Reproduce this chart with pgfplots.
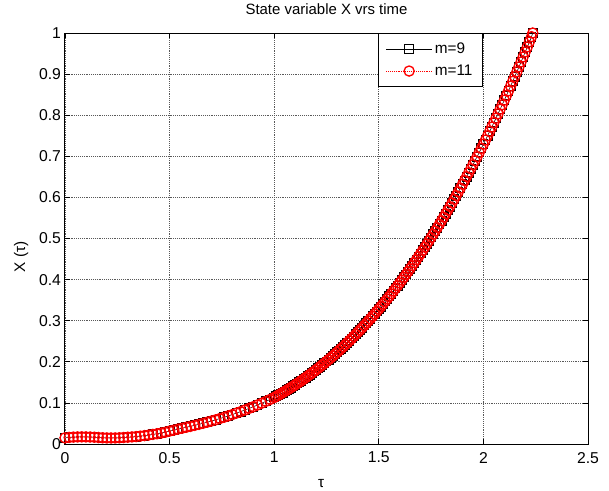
\documentclass[border=0pt]{standalone}
\usepackage{fontspec}
\setmainfont{Liberation Sans}
\usepackage{pgfplots}
\usepackage{pgfplotstable}
\pgfplotsset{compat=1.18}
\pgfplotstableread{
tau X
0.00 0.0150
0.02 0.0160
0.04 0.0168
0.06 0.0172
0.08 0.0174
0.10 0.0173
0.12 0.0170
0.14 0.0165
0.16 0.0158
0.18 0.0152
0.20 0.0148
0.22 0.0147
0.24 0.0148
0.26 0.0152
0.28 0.0158
0.30 0.0165
0.32 0.0172
0.34 0.0181
0.36 0.0192
0.38 0.0204
0.40 0.0218
0.42 0.0233
0.44 0.0250
0.46 0.0268
0.48 0.0288
0.50 0.0315
0.52 0.0337
0.54 0.0362
0.56 0.0385
0.58 0.0408
0.60 0.0430
0.62 0.0454
0.64 0.0478
0.66 0.0504
0.68 0.0531
0.70 0.0559
0.72 0.0588
0.74 0.0619
0.76 0.0650
0.78 0.0683
0.80 0.0717
0.82 0.0753
0.84 0.0789
0.86 0.0827
0.88 0.0867
0.90 0.0907
0.92 0.0949
0.94 0.0992
0.96 0.1037
0.98 0.1083
1.00 0.1130
1.01 0.1158
1.02 0.1187
1.03 0.1217
1.04 0.1247
1.05 0.1277
1.06 0.1308
1.07 0.1340
1.08 0.1372
1.09 0.1405
1.10 0.1438
1.11 0.1472
1.12 0.1506
1.13 0.1541
1.14 0.1577
1.15 0.1613
1.16 0.1650
1.17 0.1687
1.18 0.1725
1.19 0.1763
1.20 0.1803
1.21 0.1842
1.22 0.1883
1.23 0.1924
1.24 0.1965
1.25 0.2008
1.26 0.2051
1.27 0.2094
1.28 0.2138
1.29 0.2183
1.30 0.2229
1.31 0.2275
1.32 0.2322
1.33 0.2369
1.34 0.2417
1.35 0.2466
1.36 0.2516
1.37 0.2566
1.38 0.2617
1.39 0.2668
1.40 0.2721
1.41 0.2774
1.42 0.2827
1.43 0.2882
1.44 0.2937
1.45 0.2993
1.46 0.3049
1.47 0.3106
1.48 0.3164
1.49 0.3223
1.50 0.3283
1.51 0.3343
1.52 0.3404
1.53 0.3466
1.54 0.3528
1.55 0.3591
1.56 0.3655
1.57 0.3720
1.58 0.3786
1.59 0.3852
1.60 0.3919
1.61 0.3987
1.62 0.4056
1.63 0.4125
1.64 0.4196
1.65 0.4267
1.66 0.4339
1.67 0.4411
1.68 0.4485
1.69 0.4559
1.70 0.4634
1.71 0.4710
1.72 0.4787
1.73 0.4865
1.74 0.4944
1.75 0.5023
1.76 0.5103
1.77 0.5184
1.78 0.5266
1.79 0.5349
1.80 0.5433
1.81 0.5517
1.82 0.5603
1.83 0.5689
1.84 0.5776
1.85 0.5864
1.86 0.5953
1.87 0.6043
1.88 0.6134
1.89 0.6225
1.90 0.6318
1.91 0.6411
1.92 0.6506
1.93 0.6601
1.94 0.6697
1.95 0.6795
1.96 0.6893
1.97 0.6992
1.98 0.7092
1.99 0.7193
2.00 0.7295
2.01 0.7397
2.02 0.7501
2.03 0.7606
2.04 0.7712
2.05 0.7819
2.06 0.7926
2.07 0.8035
2.08 0.8145
2.09 0.8255
2.10 0.8367
2.11 0.8480
2.12 0.8593
2.13 0.8708
2.14 0.8824
2.15 0.8940
2.16 0.9058
2.17 0.9177
2.18 0.9296
2.19 0.9417
2.20 0.9539
2.21 0.9662
2.22 0.9786
2.23 0.9910
2.236 1.0000
}\stateX
\begin{document}
\begin{tikzpicture}
\path[use as bounding box] (-48.75pt,-34.5pt) rectangle (408pt,333pt);
\begin{axis}[
  at={(0pt,0pt)}, anchor=south west,
  scale only axis, width=392.25pt, height=308.25pt,
  xmin=0, xmax=2.5, ymin=0, ymax=1,
  xtick={0,0.5,1,1.5,2,2.5},
  ytick={0,0.1,0.2,0.3,0.4,0.5,0.6,0.7,0.8,0.9,1},
  tick align=inside, major tick length=3.75pt,
  axis line style={line width=0.75pt},
  every tick/.style={black, line width=0.6pt},
  grid=major, major grid style={densely dotted, black!65, line width=0.5pt},
  /pgf/number format/assume math mode=true,
  ticklabel style={font=\fontsize{11.8}{13}\selectfont},
  xticklabel style={yshift=-2.5pt},
  yticklabel style={xshift=0.5pt},
  title={State variable X vrs time},
  title style={at={(axis description cs:0.5,1.025)}, anchor=base, font=\fontsize{11.2}{13}\selectfont},
  xlabel={τ},
  xlabel style={at={(axis description cs:0.49,-0.095)}, anchor=center, font=\fontsize{11.5}{13}\selectfont},
  ylabel={X (τ)},
  ylabel style={at={(axis description cs:-0.084,0.455)}, anchor=center, font=\fontsize{11.5}{13}\selectfont},
  clip=false,
  legend image code/.code={\draw[mark repeat=2,mark phase=2,#1] plot coordinates {(0cm,0cm) (0.6cm,0cm) (1.2cm,0cm)};},
  legend cell align=left,
  legend style={at={(rel axis cs:0.799,1)}, anchor=north east, font=\fontsize{11.5}{13}\selectfont,
    draw=black, line width=0.6pt, inner xsep=5.5pt, inner ysep=5pt, row sep=3pt},
]
\addplot[black, line width=0.4pt, mark=square, mark size=3.3pt, mark options={solid, line width=0.8pt}] table[x=tau,y=X]{\stateX};
\addlegendentry{m=9}
\addplot[red, densely dotted, line width=0.4pt, mark=o, mark size=3.8pt, mark options={solid, line width=1pt}] table[x=tau,y=X]{\stateX};
\addlegendentry{m=11}
\end{axis}
\end{tikzpicture}
\end{document}
